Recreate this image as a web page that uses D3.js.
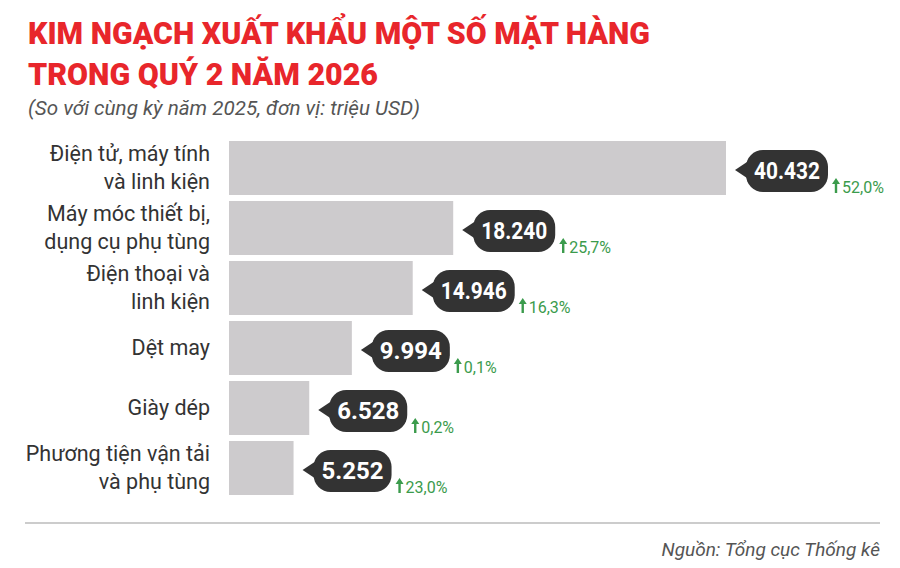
<!DOCTYPE html><html><head><meta charset="utf-8"><script src="https://cdn.jsdelivr.net/npm/d3@7"></script>
<style>body{margin:0;background:#fff}</style></head><body><svg id="c" width="900" height="568"></svg>
<script>
const categories=[["Điện tử, máy tính","và linh kiện"],["Máy móc thiết bị,","dụng cụ phụ tùng"],["Điện thoại và","linh kiện"],["Dệt may"],["Giày dép"],["Phương tiện vận tải","và phụ tùng"]];
const values=[40432,18240,14946,9994,6528,5252];
const valueLabels=["40.432","18.240","14.946","9.994","6.528","5.252"];
const growth=["52,0%","25,7%","16,3%","0,1%","0,2%","23,0%"];
const svg=d3.select("#c");
const x=d3.scaleLinear().domain([0,40432]).range([229,726]);
const y=d3.scaleBand().domain(d3.range(6)).range([138,498]).paddingInner(0.1).paddingOuter(0.05);
svg.append("text").attr("x",28).attr("y",44).attr("fill","#e8262b").attr("font-family","Roboto").attr("font-weight",900).attr("font-size",32).attr("textLength",622).attr("lengthAdjust","spacingAndGlyphs").text("KIM NGẠCH XUẤT KHẨU MỘT SỐ MẶT HÀNG");
svg.append("text").attr("x",28).attr("y",85).attr("fill","#e8262b").attr("font-family","Roboto").attr("font-weight",900).attr("font-size",32).attr("textLength",350).attr("lengthAdjust","spacingAndGlyphs").text("TRONG QUÝ 2 NĂM 2026");
svg.append("text").attr("x",28).attr("y",115).attr("fill","#555").attr("font-family","Roboto").attr("font-style","italic").attr("font-size",20).attr("textLength",392).attr("lengthAdjust","spacingAndGlyphs").text("(So với cùng kỳ năm 2025, đơn vị: triệu USD)");
const g=svg.selectAll("g.r").data(values).join("g");
g.append("rect").attr("x",x(0)).attr("y",(d,i)=>y(i)).attr("width",d=>x(d)-x(0)).attr("height",y.bandwidth()).attr("fill","#cdcbcd");
g.each(function(d,i){
 const s=d3.select(this), cy=y(i)+y.bandwidth()/2, lines=categories[i];
 lines.forEach((l,k)=>s.append("text").attr("x",210).attr("y",cy+(k-(lines.length-1)/2)*28+7).attr("text-anchor","end").attr("font-family","Roboto").attr("font-size",21.5).attr("fill","#333").text(l));
 const bx=x(d)+20, w=valueLabels[i].length>5?82:78, top=cy-18, h=42;
 s.append("path").attr("d",`M${bx-11},${cy+2}L${bx+4},${cy-8}L${bx+4},${cy+12}Z`).attr("fill","#333");
 s.append("rect").attr("x",bx).attr("y",top).attr("width",w).attr("height",h).attr("rx",17).attr("fill","#333");
 s.append("text").attr("x",bx+w/2).attr("y",top+h/2+8).attr("text-anchor","middle").attr("fill","#fff").attr("font-family","Roboto").attr("font-weight",700).attr("font-size",23).attr("textLength",w-16).attr("lengthAdjust","spacingAndGlyphs").text(valueLabels[i]);
 const ax=bx+w+8, ay=cy+25;
 s.append("path").attr("d",`M${ax},${ay-15}L${ax+4},${ay-9}L${ax+1.2},${ay-9}L${ax+1.2},${ay}L${ax-1.2},${ay}L${ax-1.2},${ay-9}L${ax-4},${ay-9}Z`).attr("fill","#3b9b4c");
 s.append("text").attr("x",ax+6).attr("y",ay).attr("fill","#3b9b4c").attr("font-family","Roboto").attr("font-size",16).text(growth[i]);
});
svg.append("line").attr("x1",25).attr("x2",880).attr("y1",523).attr("y2",523).attr("stroke","#bbb").attr("stroke-width",1.5);
svg.append("text").attr("x",880).attr("y",556).attr("text-anchor","end").attr("fill","#555").attr("font-family","Roboto").attr("font-style","italic").attr("font-size",19).text("Nguồn: Tổng cục Thống kê");
</script></body></html>
